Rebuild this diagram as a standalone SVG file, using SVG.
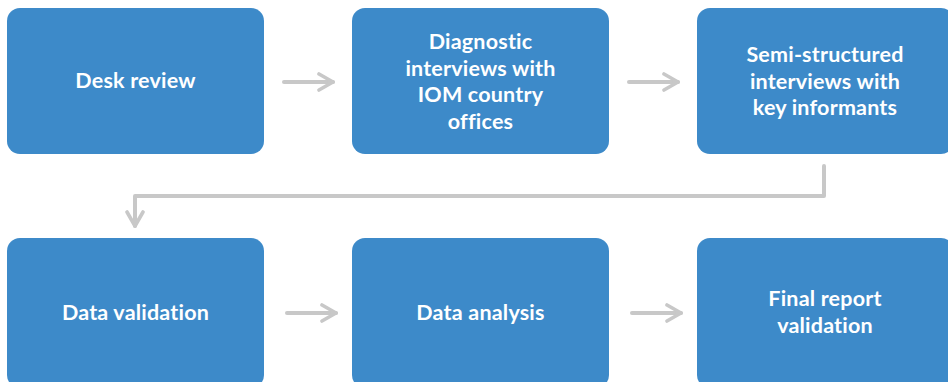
<svg xmlns="http://www.w3.org/2000/svg" width="948" height="382" viewBox="0 0 948 382">
<style>
.box{fill:#3d8ac9}
.t{font-family:Lato,"Open Sans",sans-serif;font-weight:bold;font-size:21.5px;letter-spacing:0.2px;fill:#ffffff;text-anchor:middle}
.c{fill:none;stroke:#c8c8c8;stroke-width:4;stroke-linecap:round;stroke-linejoin:round}
</style>
<defs>
<marker id="ah" viewBox="0 0 10 10" refX="9" refY="5" markerWidth="5" markerHeight="5" markerUnits="strokeWidth" orient="auto">
<path d="M2,1 L9,5 L2,9" fill="none" stroke="#c8c8c8" stroke-width="1.8" stroke-linecap="round" stroke-linejoin="round"/>
</marker>
</defs>
<rect width="948" height="382" fill="#ffffff"/>
<g id="connectors">
<path class="c" d="M284,82 L333,82" marker-end="url(#ah)"/>
<path class="c" d="M629,82 L678,82" marker-end="url(#ah)"/>
<path class="c" d="M824,166 L824,196 L135,196 L135,226" marker-end="url(#ah)"/>
<path class="c" d="M287,313 L336,313" marker-end="url(#ah)"/>
<path class="c" d="M632,313 L681,313" marker-end="url(#ah)"/>
</g>
<g id="n1"><rect class="box" x="7" y="8" width="257" height="146" rx="13"/><text class="t" x="135.5" y="88">Desk review</text></g>
<g id="n2"><rect class="box" x="352" y="8" width="257" height="146" rx="13"/><text class="t" x="480.5" y="49">Diagnostic</text><text class="t" x="480.5" y="75.5">interviews with</text><text class="t" x="480.5" y="102">IOM country</text><text class="t" x="480.5" y="128.5">offices</text></g>
<g id="n3"><rect class="box" x="697" y="8" width="257" height="146" rx="13"/><text class="t" x="825" y="62">Semi-structured</text><text class="t" x="825" y="88.5">interviews with</text><text class="t" x="825" y="115">key informants</text></g>
<g id="n4"><rect class="box" x="7" y="238" width="257" height="150" rx="13"/><text class="t" x="135.5" y="320">Data validation</text></g>
<g id="n5"><rect class="box" x="352" y="238" width="257" height="150" rx="13"/><text class="t" x="480.5" y="320">Data analysis</text></g>
<g id="n6"><rect class="box" x="697" y="238" width="257" height="150" rx="13"/><text class="t" x="825" y="306">Final report</text><text class="t" x="825" y="332.5">validation</text></g>
</svg>
